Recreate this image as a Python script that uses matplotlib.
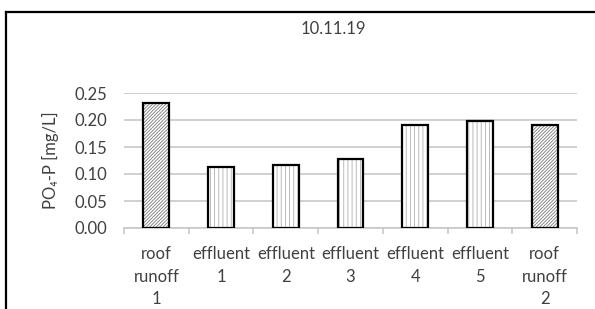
import matplotlib.pyplot as plt
import numpy as np

plt.rcParams['font.family'] = ['Lato', 'DejaVu Sans']
plt.rcParams['hatch.linewidth'] = 0.6

# data
categories = ['roof\nrunoff\n1', 'effluent\n1', 'effluent\n2', 'effluent\n3',
              'effluent\n4', 'effluent\n5', 'roof\nrunoff\n2']
values = [0.231, 0.113, 0.117, 0.128, 0.191, 0.198, 0.191]
kinds = ['roof', 'eff', 'eff', 'eff', 'eff', 'eff', 'roof']
yticks = [0.00, 0.05, 0.10, 0.15, 0.20, 0.25]

fig = plt.figure(figsize=(5.95, 3.09), dpi=100)
ax = fig.add_axes([124/595, 1-228/309, (577-124)/595, (228-93)/309])

x = np.arange(len(categories))
w = 0.4
for xi, v, k in zip(x, values, kinds):
    if k == 'roof':
        ax.bar(xi, v, w, color='white', edgecolor='#7a7a7a', hatch='//////////', lw=0, zorder=2)
    else:
        ax.bar(xi, v, w, color='white', edgecolor='#b0b0b0', hatch='||||', lw=0, zorder=2)
    ax.bar(xi, v, w, fill=False, edgecolor='black', lw=1.6, zorder=3)

ax.set_ylim(0, 0.25)
ax.set_xlim(-0.5, len(categories) - 0.5)
ax.set_yticks(yticks)
ax.set_yticklabels(['%.2f' % t for t in yticks], fontsize=12, color='#404040')
ax.tick_params(axis='y', length=0, pad=12)
ax.yaxis.grid(True, color='#c8c8c8', lw=1.2, zorder=0)
ax.set_axisbelow(True)

ax.set_xticks(np.arange(len(categories) + 1) - 0.5)
ax.set_xticklabels([])
ax.tick_params(axis='x', which='major', length=4, color='#c8c8c8', width=1.2)
ax.set_xticks(x, minor=True)
ax.set_xticklabels(categories, minor=True, fontsize=12, color='#404040', linespacing=1.5)
ax.tick_params(axis='x', which='minor', length=0, pad=13)

for s in ['top', 'right', 'left']:
    ax.spines[s].set_visible(False)
ax.spines['bottom'].set_color('#c8c8c8')
ax.spines['bottom'].set_linewidth(1.2)

fig.text(333/595, 1-29/309, '10.11.19', ha='center', va='center', fontsize=12, color='#404040')
fig.text(50/595, 1-160/309, 'PO₄-P [mg/L]', rotation=90, ha='center', va='center',
         fontsize=12, color='#404040')

# outer frame (left and top only visible)
fig.add_artist(plt.Line2D([6/595, 6/595], [0, 1-12/309], color='black', lw=1.6, transform=fig.transFigure))
fig.add_artist(plt.Line2D([6/595, 1], [1-12/309, 1-12/309], color='black', lw=1.6, transform=fig.transFigure))

fig.savefig('out.png', dpi=100)
